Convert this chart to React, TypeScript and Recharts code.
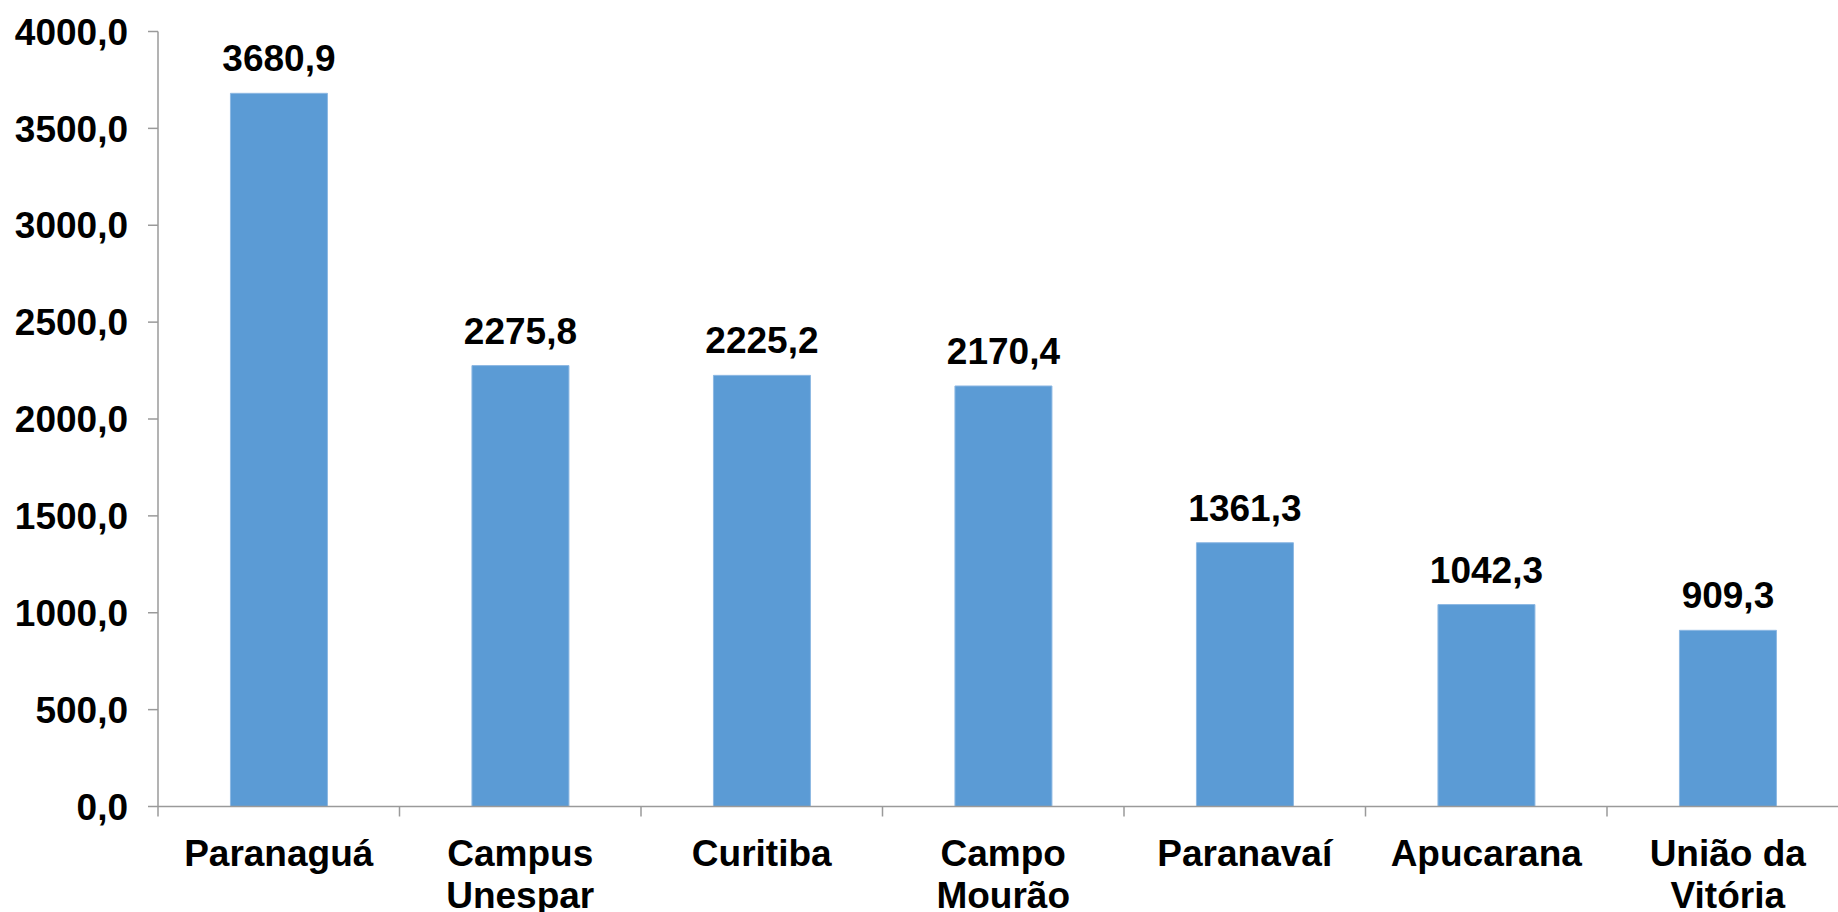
import React from "react";
import { BarChart, Bar, XAxis, YAxis, LabelList } from "recharts";

const categories = [
  "Paranaguá",
  "Campus\nUnespar",
  "Curitiba",
  "Campo\nMourão",
  "Paranavaí",
  "Apucarana",
  "União da\nVitória",
];
const values = [3680.9, 2275.8, 2225.2, 2170.4, 1361.3, 1042.3, 909.3];
const yTicks = [0, 500, 1000, 1500, 2000, 2500, 3000, 3500, 4000];

const data = categories.map((name, i) => ({ name, value: values[i] }));

const FONT = "'Liberation Sans', Arial, sans-serif";
const AXIS = "#9a9a9a";

const fmt = (v: number) => v.toFixed(1).replace(".", ",");

// category label plus a tick mark on the left edge of its band
const CategoryTick = (props: any) => {
  const { x, y, payload } = props;
  const half = payload?.offset ?? 0;
  const lines = String(payload.value).split("\n");
  return (
    <g>
      <line x1={x - half} x2={x - half} y1={y} y2={y + 10} stroke={AXIS} strokeWidth={1.5} />
      <text x={x} y={y} textAnchor="middle" fill="#000" fontSize={37} fontWeight="bold" fontFamily={FONT}>
        {lines.map((line, i) => (
          <tspan key={i} x={x} dy={i === 0 ? 59 : 42}>
            {line}
          </tspan>
        ))}
      </text>
    </g>
  );
};

export default function App() {
  return (
    <div
      style={{
        position: "fixed",
        left: 0,
        top: 0,
        width: 1838,
        height: 912,
        overflow: "hidden",
        background: "#fff",
      }}
    >
      <BarChart
        width={1860}
        height={912}
        data={data}
        margin={{ top: 31.5, right: 11.5, left: 0, bottom: 5.5 }}
        barCategoryGap="30%"
      >
        <XAxis
          dataKey="name"
          height={100}
          interval={0}
          tickSize={0}
          tickMargin={0}
          axisLine={{ stroke: AXIS, strokeWidth: 1.5 }}
          tickLine={false}
          tick={<CategoryTick />}
        />
        <YAxis
          width={158}
          domain={[0, 4000]}
          ticks={yTicks}
          interval={0}
          tickSize={10}
          tickMargin={20}
          tickFormatter={fmt}
          axisLine={{ stroke: AXIS, strokeWidth: 1.5 }}
          tickLine={{ stroke: AXIS, strokeWidth: 1.5 }}
          tick={{ fill: "#000", fontSize: 37, fontWeight: "bold", fontFamily: FONT }}
        />
        <Bar dataKey="value" fill="#5B9BD5" stroke="#8db8e3" strokeWidth={1} isAnimationActive={false}>
          <LabelList
            dataKey="value"
            position="top"
            offset={22}
            formatter={(v: any) => fmt(Number(v))}
            fill="#000"
            style={{ fontSize: 37, fontWeight: "bold", fontFamily: FONT }}
          />
        </Bar>
      </BarChart>
    </div>
  );
}
